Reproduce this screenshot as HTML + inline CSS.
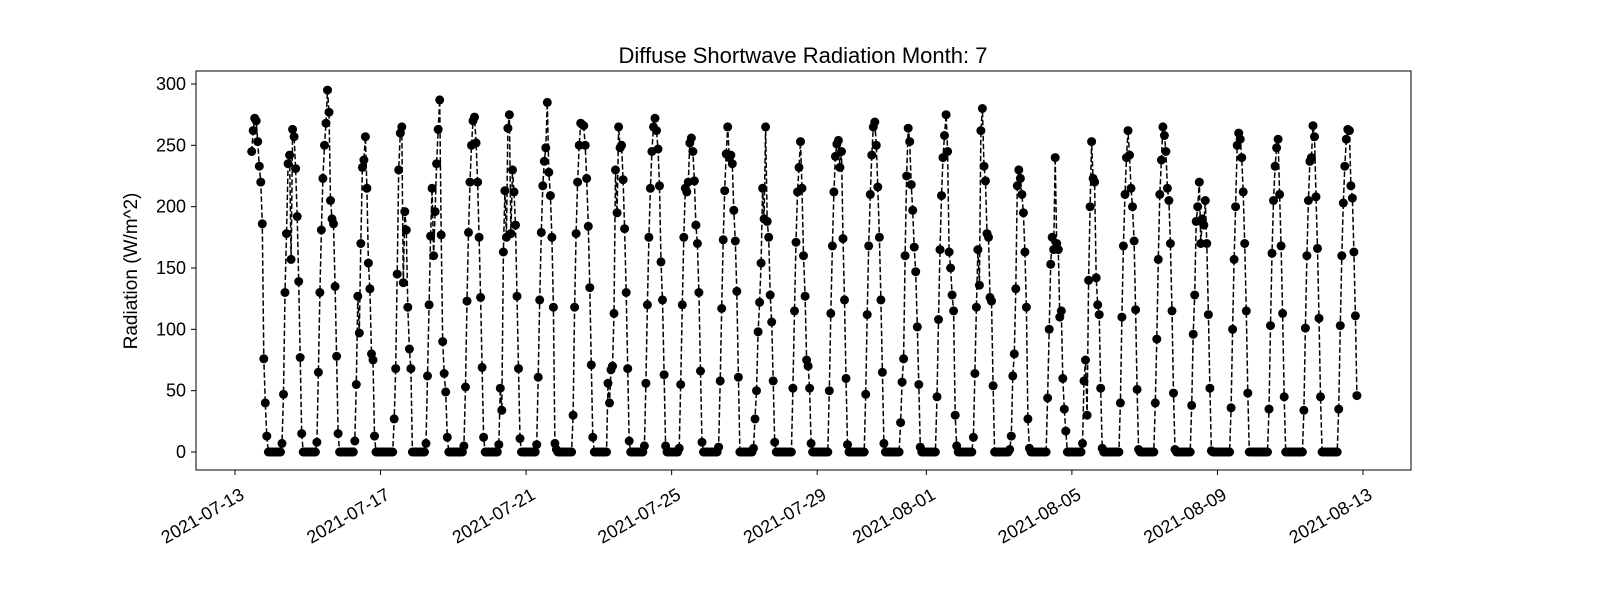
<!DOCTYPE html>
<html><head><meta charset="utf-8"><style>
body{margin:0;background:#fff}
svg text{font-family:"Liberation Sans","DejaVu Sans",sans-serif;fill:#000}
</style></head><body>
<svg id="chart" width="1600" height="600" viewBox="0 0 1600 600" xmlns="http://www.w3.org/2000/svg">
<rect width="1600" height="600" fill="#fff"/>
<text x="803" y="63" font-size="22" text-anchor="middle">Diffuse Shortwave Radiation Month: 7</text>
<g id="plot"></g>
<rect x="196" y="71" width="1215" height="399" fill="none" stroke="#000" stroke-width="1"/>
<text transform="translate(137,271) rotate(-90)" font-size="19" text-anchor="middle">Radiation (W/m^2)</text>
</svg>
<script>
const yTicks=[0,50,100,150,200,250,300];
const xTickLabels=["2021-07-13","2021-07-17","2021-07-21","2021-07-25","2021-07-29","2021-08-01","2021-08-05","2021-08-09","2021-08-13"];
const xTickDays=[0,4,8,12,16,19,23,27,31];
const firstDayStartHour=11;
const days=[
[245,262,272,270,253,233,220,186,76,40,13],
[7,47,130,178,235,242,157,263,257,231,192,139,77,15],
[8,65,130,181,223,250,268,295,277,205,190,186,135,78,15],
[9,55,127,97,170,232,238,257,215,154,133,80,75,13],
[27,68,145,230,260,265,138,196,181,118,84,68],
[7,62,120,176,215,160,196,235,263,287,177,90,64,49,12],
[5,53,123,179,220,250,270,273,252,220,175,126,69,12],
[6,52,34,163,213,175,264,275,178,230,212,185,127,68,11],
[6,61,124,179,217,237,248,285,228,209,175,118,7,2],
[30,118,178,220,250,268,267,266,250,223,184,134,71,12],
[56,40,67,70,113,230,195,265,248,250,222,182,130,68,9],
[5,56,120,175,215,245,265,272,262,247,217,155,124,63,5],
[3,55,120,175,215,212,220,252,256,245,221,185,170,130,66,8],
[4,58,117,173,213,243,265,240,242,235,197,172,131,61],
[3,27,50,98,122,154,215,190,265,188,175,128,106,58,8],
[52,115,171,212,232,253,215,160,127,75,70,52,7],
[50,113,168,212,241,251,254,232,245,174,124,60,6],
[47,112,168,210,242,265,269,250,216,175,124,65,7],
[24,57,76,160,225,264,253,218,197,167,147,102,55,4],
[45,108,165,209,240,258,275,245,163,150,128,115,30,5],
[12,64,118,165,136,262,280,233,221,178,175,126,123,54],
[2,13,62,80,133,217,230,223,210,195,163,118,27,3],
[44,100,153,175,165,240,170,165,110,115,60,35,17],
[7,58,75,30,140,200,253,223,220,142,120,112,52,3],
[40,110,168,210,240,262,242,215,200,172,116,51,2],
[40,92,157,210,238,265,258,245,215,205,170,115,48,2],
[38,96,128,188,200,220,170,190,185,205,170,112,52,1],
[36,100,157,200,250,260,255,240,212,170,115,48],
[35,103,162,205,233,248,255,210,168,113,45],
[34,101,160,205,237,240,266,257,208,166,109,45],
[35,103,160,203,233,255,263,262,217,207,163,111,46]
];
const NS="http://www.w3.org/2000/svg";
const svg=document.getElementById('chart'),plot=document.getElementById('plot');
const xs=t=>235+t*36.387; // t in days since 2021-07-13
const ys=v=>452-v*1.2267;
function mk(tag,attrs){const e=document.createElementNS(NS,tag);for(const k in attrs)e.setAttribute(k,attrs[k]);return e;}
// build series
const pts=[];
days.forEach((arr,d)=>{
  const last=d===days.length-1;
  const start=d===0?firstDayStartHour:21-arr.length;
  const h0=d===0?firstDayStartHour:0;
  const h1=last?start+arr.length-1:23;
  for(let h=h0;h<=h1;h++){
    const i=h-start;const v=(i>=0&&i<arr.length)?arr[i]:0;
    pts.push([d+h/24,v]);
  }
});
const line=mk('polyline',{points:pts.map(p=>xs(p[0]).toFixed(1)+','+ys(p[1]).toFixed(1)).join(' '),fill:'none',stroke:'#000','stroke-width':1.5,'stroke-dasharray':'5.5,2.5'});


plot.appendChild(line);
pts.forEach(p=>{const c=mk('circle',{cx:xs(p[0]).toFixed(1),cy:ys(p[1]).toFixed(1),r:4.5,fill:'#000'});


plot.appendChild(c);});
yTicks.forEach(v=>{const y=ys(v);
const t=mk('line',{x1:191,x2:196,y1:y,y2:y,stroke:'#000'});


svg.appendChild(t);
const l=mk('text',{x:186,y:y+6,'font-size':18,'text-anchor':'end'});l.textContent=v;


svg.appendChild(l);});
xTickLabels.forEach((s,i)=>{const x=xs(xTickDays[i]);
const t=mk('line',{x1:x,x2:x,y1:470,y2:475,stroke:'#000'});


svg.appendChild(t);
const l=mk('text',{transform:`translate(${x+4},${487}) rotate(-30)`,'font-size':18,'text-anchor':'end','dominant-baseline':'hanging'});l.textContent=s;


svg.appendChild(l);});
</script>
</body></html>
